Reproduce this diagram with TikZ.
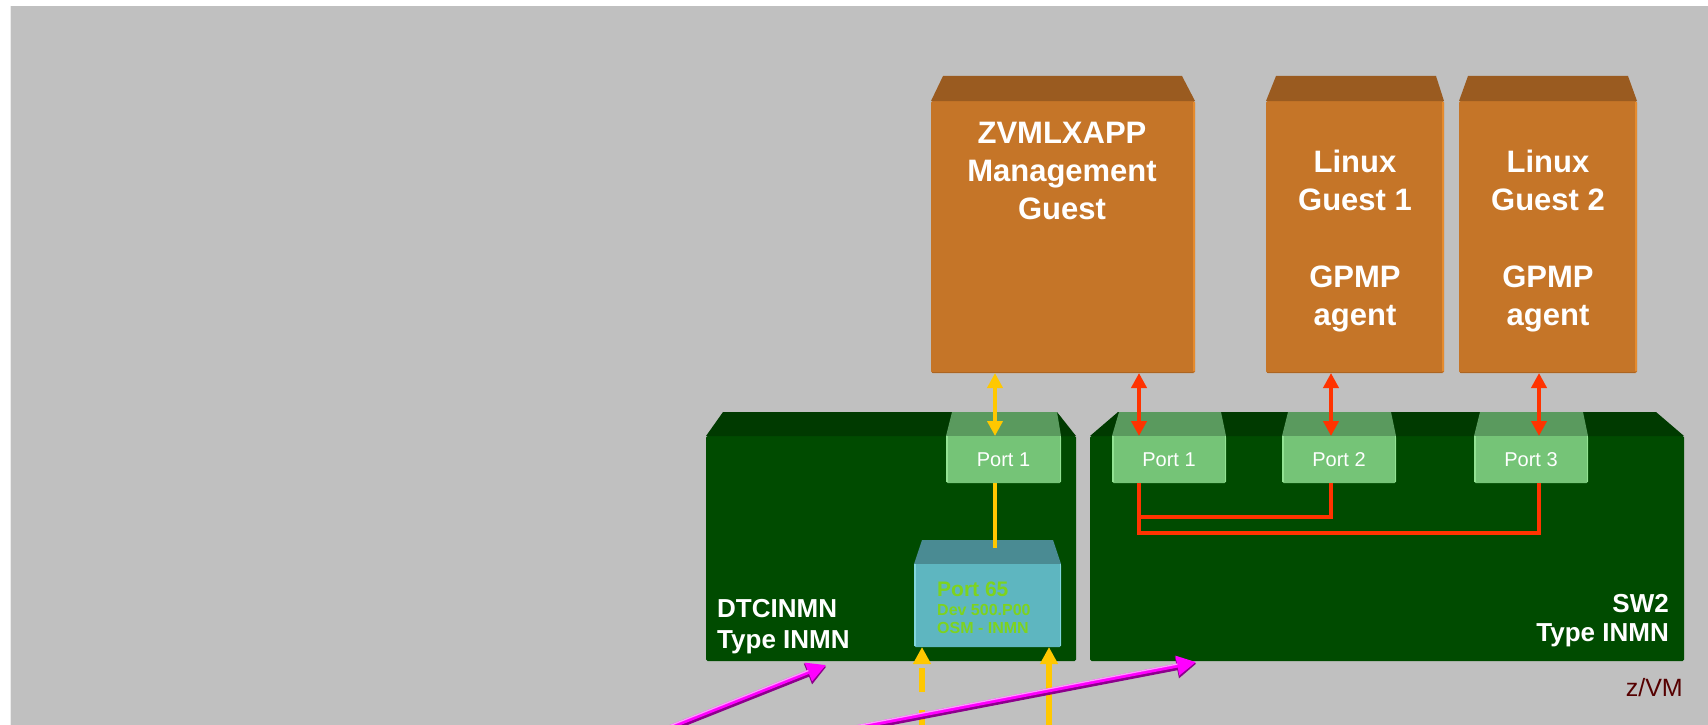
\documentclass[tikz,border=0pt]{standalone}
\usepackage{fontspec}
\setmainfont{Liberation Sans}
\usetikzlibrary{arrows.meta,calc}
\definecolor{bgc}{HTML}{C0C0C0}
\definecolor{orfront}{HTML}{C57528}
\definecolor{ortop}{HTML}{9A5B20}
\definecolor{oredge}{HTML}{E58B2E}
\definecolor{orbot}{HTML}{AC6522}
\definecolor{swfront}{HTML}{004B00}
\definecolor{swtop}{HTML}{003A00}
\definecolor{ptfront}{HTML}{75C477}
\definecolor{pttop}{HTML}{5A9A5E}
\definecolor{ptedge}{HTML}{92E292}
\definecolor{cyfront}{HTML}{5EB6C0}
\definecolor{cytop}{HTML}{4A8B93}
\definecolor{cyedge}{HTML}{82D6DE}
\definecolor{cytext}{HTML}{7ED31E}
\definecolor{yel}{HTML}{FFC800}
\definecolor{redc}{HTML}{FF3300}
\definecolor{zvmc}{HTML}{550000}
\definecolor{mag}{HTML}{FF00FF}
\definecolor{magpink}{HTML}{FF99FF}
\definecolor{magdark}{HTML}{8C008C}
\begin{document}
\begin{tikzpicture}[x=1pt,y=-1pt,
  box/.style={inner sep=0pt,outer sep=0pt,anchor=north west,rounded corners=1.5pt},
  guest/.style={box,fill=orfront,minimum width=178pt,minimum height=272pt},
  switchbox/.style={box,fill=swfront,minimum height=225pt},
  portbox/.style={box,fill=ptfront,minimum width=114pt,minimum height=47pt,
    text=white,font=\fontsize{20}{24}\selectfont},
  gtext/.style={anchor=base,inner sep=0pt,text=white,font=\fontsize{31}{38}\selectfont\bfseries},
  swtext/.style={inner sep=0pt,text=white,font=\fontsize{26}{32}\selectfont\bfseries},
  cytxt/.style={anchor=base west,inner sep=0pt,text=cytext},
  dblarrow/.style={line width=4pt,{Triangle[length=15pt,width=15pt]}-{Triangle[length=15pt,width=15pt]}},
  bigarrow/.style={line width=5.5pt,yel,-{Triangle[length=17pt,width=17pt]}},
]
\useasboundingbox (0,0) rectangle (1708,725);
\begin{scope}
\clip (0,0) rectangle (1708,725);
\fill[white] (0,0) rectangle (1708,725);
\fill[bgc] (10,6) rectangle (1708,725);
\draw[color=white!70!bgc,line width=1pt] (10.5,6) -- (10.5,725);

% guests
\node[guest,minimum width=264pt] (mg) at (931,101) {};
\node[guest] (lg1) at (1266,101) {};
\node[guest] (lg2) at (1459,101) {};
\fill[ortop] (mg.north west) -- (943,76) -- (1182,76) -- (mg.north east) -- cycle;
\fill[ortop] (lg1.north west) -- (1276,76) -- (1436,76) -- (lg1.north east) -- cycle;
\fill[ortop] (lg2.north west) -- (1468,76) -- (1628,76) -- (lg2.north east) -- cycle;
\foreach \g in {mg,lg1,lg2}{
  \draw[oredge,line width=2.5pt] ([xshift=-1.25pt,yshift=-1pt]\g.north east) -- ([xshift=-1.25pt,yshift=2pt]\g.south east);
  \draw[orbot,line width=1.5pt] ([xshift=1pt,yshift=0.75pt]\g.south west) -- ([xshift=-2.5pt,yshift=0.75pt]\g.south east);
}
\node[gtext] (mgt1) at (1062,143) {ZVMLXAPP};
\node[gtext] (mgt2) at (1062,181) {Management};
\node[gtext] (mgt3) at (1062,219) {Guest};
\node[gtext] (l1t1) at (1355,172) {Linux};
\node[gtext] (l1t2) at (1355,210) {Guest 1};
\node[gtext] (l1t3) at (1355,287) {GPMP};
\node[gtext] (l1t4) at (1355,325) {agent};
\node[gtext] (l2t1) at (1548,172) {Linux};
\node[gtext] (l2t2) at (1548,210) {Guest 2};
\node[gtext] (l2t3) at (1548,287) {GPMP};
\node[gtext] (l2t4) at (1548,325) {agent};

% switches
\node[switchbox,minimum width=370pt] (dtc) at (706,436) {};
\fill[swtop] (dtc.north west) -- (723,412) -- (1057,412) -- (dtc.north east) -- cycle;
\node[switchbox,minimum width=594pt] (sw2) at (1090,436) {};
\fill[swtop] (sw2.north west) -- (1118,412) -- (1656,412) -- (sw2.north east) -- cycle;

\node[swtext,anchor=base west] (dtcl1) at (717,617) {DTCINMN};
\node[swtext,anchor=base west] (dtcl2) at (717,648) {Type INMN};
\node[swtext,anchor=base east] (swl1) at (1669,612) {SW2};
\node[swtext,anchor=base east] (swl2) at (1669,641) {Type INMN};
\node[anchor=base east,inner sep=0pt,text=zvmc,font=\fontsize{25}{30}\selectfont] (zvm) at (1683,696) {z/VM};

% ports
\fill[pttop] (946,436) -- (952,412) -- (1057,412) -- (1061,436) -- cycle;
\fill[pttop] (1112,436) -- (1119,412) -- (1221,412) -- (1226,436) -- cycle;
\fill[pttop] (1282,436) -- (1288,412) -- (1391,412) -- (1396,436) -- cycle;
\fill[pttop] (1474,436) -- (1480,412) -- (1583,412) -- (1588,436) -- cycle;
\node[portbox,minimum width=115pt] (dp1) at (946,436) {Port 1};
\node[portbox] (sp1) at (1112,436) {Port 1};
\node[portbox] (sp2) at (1282,436) {Port 2};
\node[portbox] (sp3) at (1474,436) {Port 3};
\foreach \p in {dp1,sp1,sp2,sp3}{
  \draw[ptedge,line width=1.5pt] ([xshift=0.75pt]\p.north west) -- ([xshift=0.75pt,yshift=1.5pt]\p.south west);
  \draw[ptedge,line width=1.5pt] ([xshift=-0.75pt]\p.north east) -- ([xshift=-0.75pt,yshift=1.5pt]\p.south east);
}

% port 65
\fill[cytop] (914,564) -- (922,540) -- (1053,540) -- (1061,564) -- cycle;
\node[box,fill=cyfront,minimum width=147pt,minimum height=83pt] (p65) at (914,564) {};
\draw[cyedge,line width=1.5pt] ([xshift=0.75pt]p65.north west) -- ([xshift=0.75pt,yshift=1.5pt]p65.south west);
\draw[cyedge,line width=1.5pt] ([xshift=-0.75pt]p65.north east) -- ([xshift=-0.75pt,yshift=1.5pt]p65.south east);
\node[cytxt,font=\fontsize{21}{25}\selectfont\bfseries] (p65a) at (937,596) {Port 65};
\node[cytxt,font=\fontsize{16}{19}\selectfont\bfseries] (p65b) at (937,615) {Dev 500.P00};
\node[cytxt,font=\fontsize{16}{19}\selectfont\bfseries] (p65c) at (937,633) {OSM - INMN};

% connectors
\coordinate (yx) at (995,0);
\coordinate (r1) at (1139,0);
\coordinate (r2) at (1331,0);
\coordinate (r3) at (1539,0);
\draw[yel,line width=4pt] (dp1.south -| yx) -- ($(p65.north -| yx)+(0,-16)$);
\draw[dblarrow,yel] (mg.south -| yx) -- (dp1.north -| yx);
\draw[dblarrow,redc] (mg.south -| r1) -- (sp1.north -| r1);
\draw[dblarrow,redc] (lg1.south -| r2) -- (sp2.north -| r2);
\draw[dblarrow,redc] (lg2.south -| r3) -- (sp3.north -| r3);
\draw[redc,line width=4pt] (sp1.south -| r1) -- ++(0,34) -| (sp2.south -| r2);
\draw[redc,line width=4pt] (sp1.south -| r1) -- ++(0,50) -| (sp3.south -| r3);

\coordinate (yb1) at (922,745);
\coordinate (yb2) at (1049,745);
\draw[bigarrow,dash pattern=on 24pt off 18pt,dash phase=31pt] (yb1) -- (p65.south -| yb1);
\draw[bigarrow] (yb2) -- (p65.south -| yb2);

% magenta arrows
\coordinate (m1s) at (625,745);
\coordinate (m1t) at (826,665);
\coordinate (m2s) at (764,745);
\coordinate (m2t) at (1196,662);
\foreach \s/\t in {m1s/m1t,m2s/m2t}{
  \draw[magdark,line width=6pt,-{Triangle[length=20pt,width=21pt]}] ([xshift=0.5pt,yshift=-1.5pt]\s) -- ([xshift=0.5pt,yshift=-1.5pt]\t);
  \draw[mag,line width=4pt,-{Triangle[length=19pt,width=19pt]}] (\s) -- (\t);
  \draw[magpink,line width=1.3pt,shorten >=19pt] ([yshift=1.5pt]\s) -- ([yshift=1.5pt]\t);
}
\end{scope}
\end{tikzpicture}
\end{document}
